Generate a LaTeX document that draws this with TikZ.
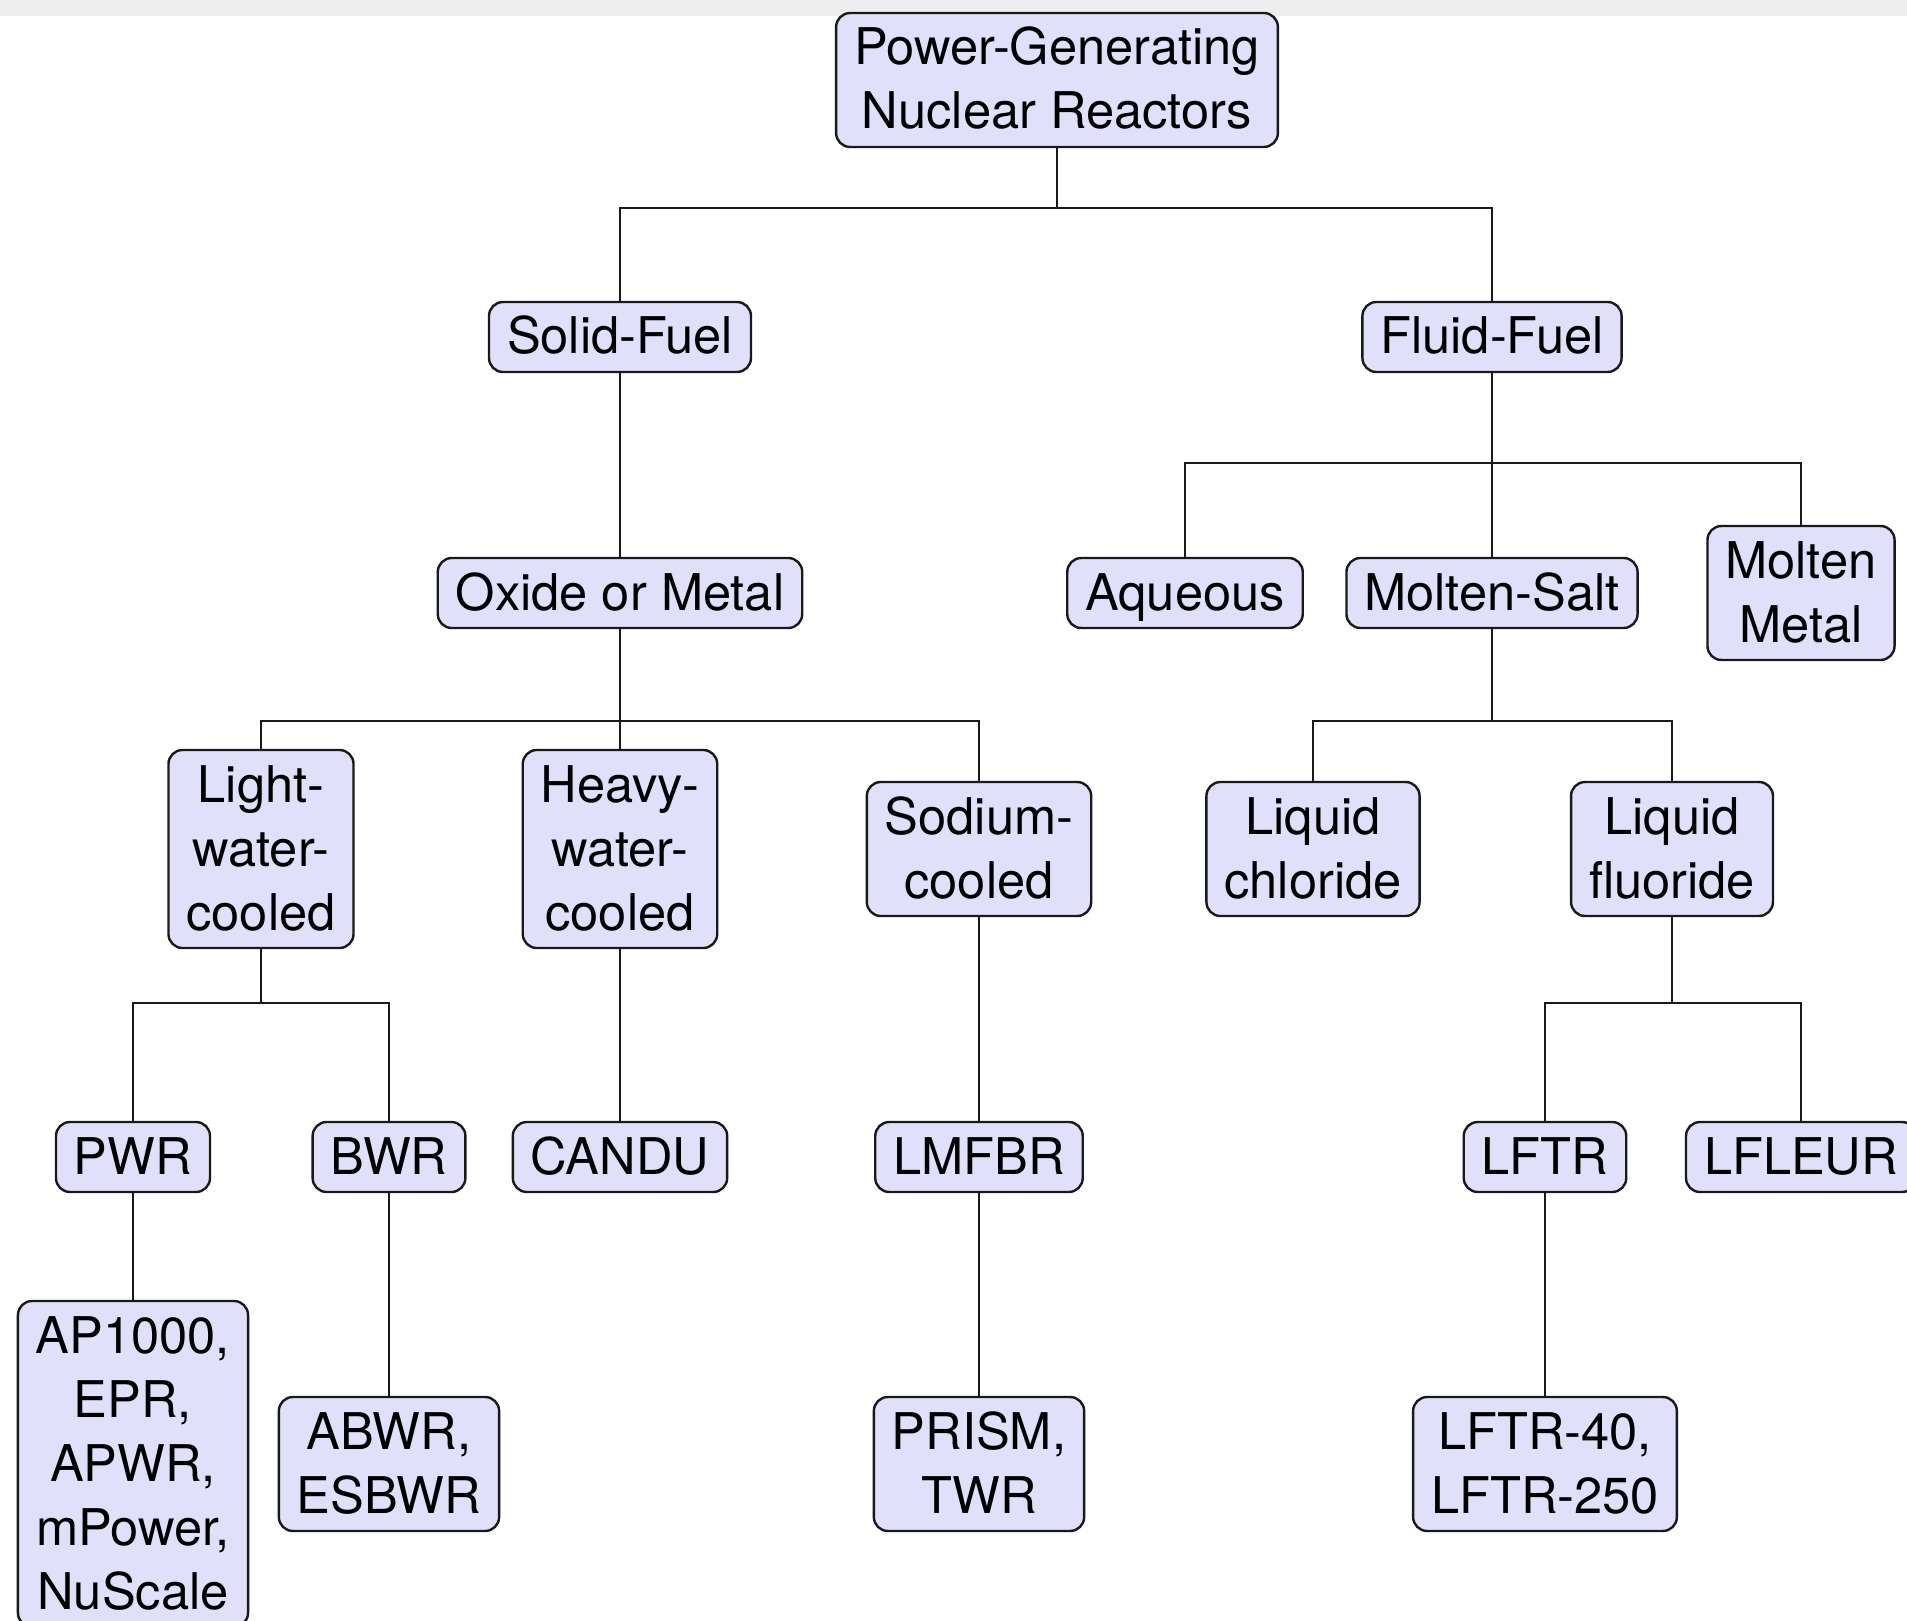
\documentclass[tikz,border=0pt]{standalone}
\usepackage{fontspec}
\setmainfont{TeX Gyre Heros}
\definecolor{boxfill}{RGB}{224,224,250}
\definecolor{topstrip}{RGB}{238,238,238}
\newcommand{\sT}{\rule{0pt}{24.5pt}}
\newcommand{\sB}{\rule[-7.5pt]{0pt}{7.5pt}}
\begin{document}
\begin{tikzpicture}[x=0.5pt,y=-0.5pt,
  box/.style={draw=black!90, line width=1.2pt, fill=boxfill, rounded corners=7pt,
    align=center, inner xsep=9pt, inner ysep=1.5pt,
    font=\fontsize{25.3}{32}\selectfont},
  link/.style={draw=black!90, line width=1.1pt}]
\useasboundingbox (0,0) rectangle (1907,1621);
\clip (0,0) rectangle (1907,1621);
\fill[white] (0,0) rectangle (1907,1621);
\fill[topstrip] (0,0) rectangle (1907,16);

% level 0
\node[box] (root) at (1057,80) {\sT Power-Generating\\Nuclear Reactors\sB};
% level 1
\node[box] (solid) at (620,337) {\sT Solid-Fuel\sB};
\node[box] (fluid) at (1492,337) {\sT Fluid-Fuel\sB};
% level 2
\node[box] (oxide) at (620,593) {\sT Oxide or Metal\sB};
\node[box] (aq) at (1185,593) {\sT Aqueous\sB};
\node[box] (ms) at (1492,593) {\sT Molten-Salt\sB};
\node[box] (mm) at (1801,593) {\sT Molten\\Metal\sB};
% level 3
\node[box] (lw) at (261,849) {\sT Light-\\water-\\cooled\sB};
\node[box] (hw) at (620,849) {\sT Heavy-\\water-\\cooled\sB};
\node[box] (na) at (979,849) {\sT Sodium-\\cooled\sB};
\node[box] (lc) at (1313,849) {\sT Liquid\\chloride\sB};
\node[box] (lf) at (1672,849) {\sT Liquid\\fluoride\sB};
% level 4
\node[box] (pwr) at (133,1157) {\sT PWR\sB};
\node[box] (bwr) at (389,1157) {\sT BWR\sB};
\node[box] (candu) at (620,1157) {\sT CANDU\sB};
\node[box] (lmfbr) at (979,1157) {\sT LMFBR\sB};
\node[box] (lftr) at (1545,1157) {\sT LFTR\sB};
\node[box] (lfleur) at (1801,1157) {\sT LFLEUR\sB};
% level 5
\node[box] (ap) at (133,1464) {\sT AP1000,\\EPR,\\APWR,\\mPower,\\NuScale\sB};
\node[box] (abwr) at (389,1464) {\sT ABWR,\\ESBWR\sB};
\node[box] (prism) at (979,1464) {\sT PRISM,\\TWR\sB};
\node[box] (lftr40) at (1545,1464) {\sT LFTR-40,\\LFTR-250\sB};

% bar levels
\coordinate (bar0) at (0,208);
\coordinate (bar1) at (0,463);
\coordinate (bar2) at (0,721);
\coordinate (bar3) at (0,1003);

% connectors
\draw[link] (root.south) -- (root.south |- bar0) -| (solid.north);
\draw[link] (root.south |- bar0) -| (fluid.north);
\draw[link] (solid.south) -- (oxide.north);
\draw[link] (fluid.south) -- (ms.north);
\draw[link] (fluid.south |- bar1) -| (aq.north);
\draw[link] (fluid.south |- bar1) -| (mm.north);
\draw[link] (oxide.south) -- (hw.north);
\draw[link] (oxide.south |- bar2) -| (lw.north);
\draw[link] (oxide.south |- bar2) -| (na.north);
\draw[link] (ms.south) -- (ms.south |- bar2) -| (lc.north);
\draw[link] (ms.south |- bar2) -| (lf.north);
\draw[link] (lw.south) -- (lw.south |- bar3) -| (pwr.north);
\draw[link] (lw.south |- bar3) -| (bwr.north);
\draw[link] (hw.south) -- (candu.north);
\draw[link] (na.south) -- (lmfbr.north);
\draw[link] (lf.south) -- (lf.south |- bar3) -| (lftr.north);
\draw[link] (lf.south |- bar3) -| (lfleur.north);
\draw[link] (pwr.south) -- (ap.north);
\draw[link] (bwr.south) -- (abwr.north);
\draw[link] (lmfbr.south) -- (prism.north);
\draw[link] (lftr.south) -- (lftr40.north);
\end{tikzpicture}
\end{document}
